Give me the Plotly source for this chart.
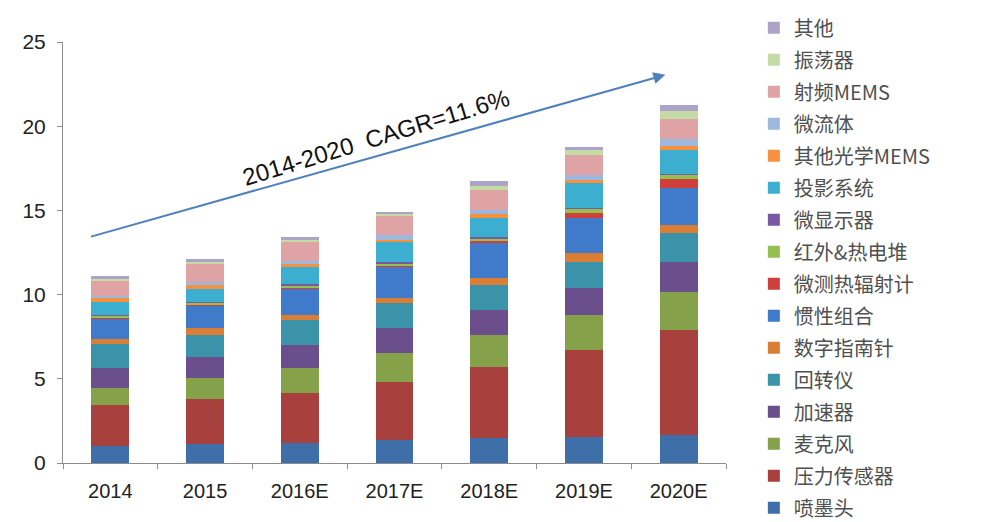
import plotly.graph_objects as go

years = ["2014", "2015", "2016E", "2017E", "2018E", "2019E", "2020E"]

# bottom -> top stacking order
series_names = ["喷墨头", "压力传感器", "麦克风", "加速器", "回转仪", "数字指南针", "惯性组合",
                "微测热辐射计", "红外&热电堆", "微显示器", "投影系统", "其他光学MEMS",
                "微流体", "射频MEMS", "振荡器", "其他"]

inkjet      = [1.00, 1.10, 1.17, 1.37, 1.47, 1.56, 1.66]
pressure    = [2.45, 2.68, 2.97, 3.46, 4.25, 5.15, 6.24]
microphone  = [1.00, 1.25, 1.48, 1.68, 1.88, 2.08, 2.27]
accel       = [1.20, 1.28, 1.38, 1.49, 1.49, 1.58, 1.78]
gyro        = [1.40, 1.29, 1.49, 1.48, 1.48, 1.58, 1.69]
compass     = [0.30, 0.40, 0.30, 0.30, 0.40, 0.50, 0.50]
imu         = [1.25, 1.38, 1.58, 1.88, 2.08, 2.08, 2.18]
bolometer   = [0.05, 0.05, 0.08, 0.08, 0.15, 0.33, 0.54]
infrared    = [0.08, 0.08, 0.10, 0.10, 0.15, 0.26, 0.25]
microdisp   = [0.05, 0.05, 0.07, 0.07, 0.05, 0.05, 0.05]
projection  = [0.80, 0.80, 1.00, 1.19, 1.15, 1.44, 1.40]
other_optic = [0.20, 0.20, 0.20, 0.15, 0.23, 0.20, 0.25]
microfluid  = [0.15, 0.20, 0.15, 0.28, 0.26, 0.30, 0.42]
rf          = [0.92, 1.06, 1.15, 1.12, 1.19, 1.20, 1.20]
oscillator  = [0.10, 0.10, 0.15, 0.12, 0.20, 0.25, 0.45]
others      = [0.15, 0.18, 0.15, 0.15, 0.30, 0.20, 0.40]

series_values = [inkjet, pressure, microphone, accel, gyro, compass, imu, bolometer,
                 infrared, microdisp, projection, other_optic, microfluid, rf, oscillator, others]

colors = ["#3F6FA8", "#A8403E", "#85A24A", "#6B4E8C", "#3A93A9", "#D97E34", "#3F7ACB",
          "#CF3F3C", "#94C04F", "#7A59A3", "#3CAED0", "#F7913E", "#9DB7DD", "#E0A3A5",
          "#C5DBA5", "#ACA3C8"]

fig = go.Figure()
n = len(series_names)
for i, (name, vals, col) in enumerate(zip(series_names, series_values, colors)):
    fig.add_trace(go.Bar(x=years, y=vals, name=name, marker_color=col,
                         marker_line_width=0, legendgroup=name, legendrank=100 + (n - i)))

fig.update_layout(
    barmode="stack",
    bargap=0.6,
    width=984, height=522,
    margin=dict(l=63, r=258, t=42, b=59, autoexpand=False),
    plot_bgcolor="white", paper_bgcolor="white",
    font=dict(family="Arial, Liberation Sans, Noto Sans CJK SC", color="#333333"),
    legend=dict(traceorder="grouped", x=1.042, y=1.08, xanchor="left", yanchor="top",
                font=dict(size=20, family="Noto Sans CJK SC", color="#505050"),
                tracegroupgap=3.0, itemwidth=30, bgcolor="rgba(0,0,0,0)", maxheight=700),
    showlegend=True,
)
fig.update_yaxes(range=[0, 25], dtick=5, showgrid=False, showline=True, linecolor="#8c8c8c",
                 linewidth=1, ticks="outside", ticklen=5, tickcolor="#8c8c8c",
                 ticklabelstandoff=7,
                 tickfont=dict(size=21, family="Arial", color="#222222"), zeroline=False)
fig.update_xaxes(showgrid=False, showline=True, linecolor="#8c8c8c", linewidth=1,
                 ticks="outside", ticklen=5, tickcolor="#8c8c8c", tickson="boundaries",
                 ticklabelstandoff=10,
                 tickfont=dict(size=20, family="Arial", color="#222222"))

fig.add_annotation(x=5.86, y=23.05, ax=-0.22, ay=13.42, xref="x", yref="y", axref="x", ayref="y",
                   showarrow=True, arrowhead=2, arrowsize=1.2, arrowwidth=2, arrowcolor="#4F81BD",
                   text="")
fig.add_annotation(x=2.8, y=19.35, xref="x", yref="y", text="2014-2020&nbsp; CAGR=11.6%",
                   showarrow=False, textangle=-17,
                   font=dict(size=24, family="Arial", color="#111111"))

fig.write_html("out.html")
